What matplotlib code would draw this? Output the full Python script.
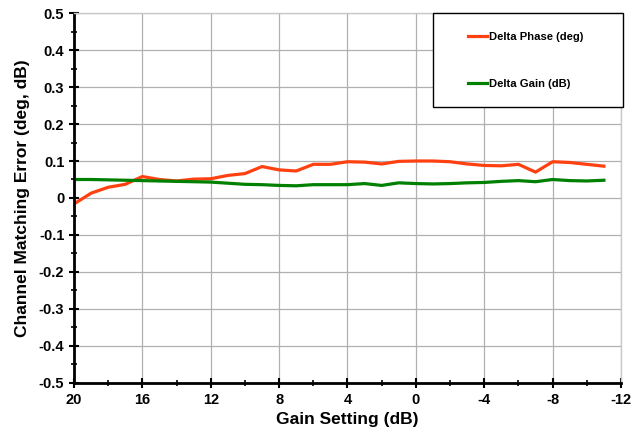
import numpy as np
import matplotlib
matplotlib.use("Agg")
import matplotlib.pyplot as plt
from matplotlib.ticker import MultipleLocator
from matplotlib.patches import Rectangle

plt.rcParams['font.family'] = ['Liberation Sans', 'DejaVu Sans']
plt.rcParams['axes.unicode_minus'] = False

# gain setting in dB, read at 1 dB steps
gain_db = list(range(20, -12, -1))
delta_phase = [-0.016, 0.013, 0.029, 0.037, 0.058, 0.050, 0.046, 0.051, 0.052, 0.061,
               0.066, 0.085, 0.076, 0.073, 0.091, 0.091, 0.098, 0.097, 0.092, 0.099,
               0.100, 0.100, 0.098, 0.092, 0.088, 0.087, 0.091, 0.070, 0.098, 0.096,
               0.091, 0.086]
delta_gain = [0.050, 0.050, 0.049, 0.048, 0.047, 0.046, 0.045, 0.044, 0.043, 0.040,
              0.037, 0.036, 0.034, 0.033, 0.036, 0.036, 0.036, 0.039, 0.034, 0.041,
              0.039, 0.038, 0.039, 0.041, 0.042, 0.045, 0.047, 0.044, 0.050, 0.047,
              0.046, 0.048]
y_ticks = [-0.5, -0.4, -0.3, -0.2, -0.1, 0, 0.1, 0.2, 0.3, 0.4, 0.5]

fig = plt.figure(figsize=(6.34, 4.38), dpi=100)
ax = fig.add_axes([0.1167, 0.1256, 0.8628, 0.8447])

ax.plot(gain_db, delta_phase, color="#ff4010", lw=2.3, label="Delta Phase (deg)")
ax.plot(gain_db, delta_gain, color="#008000", lw=2.3, label="Delta Gain (dB)")

ax.set_xlim(20, -12)
ax.set_ylim(-0.5, 0.5)
ax.xaxis.set_major_locator(MultipleLocator(4))
ax.xaxis.set_minor_locator(MultipleLocator(2))
ax.yaxis.set_minor_locator(MultipleLocator(0.05))
ax.set_yticks(y_ticks)
ax.set_yticklabels(["{:g}".format(v) for v in y_ticks])
ax.grid(True, which="major", color="#b0b0b0", lw=0.9)

ax.tick_params(which="major", direction="inout", length=7, width=1.5, labelsize=10.5)
ax.tick_params(which="minor", direction="inout", length=5, width=1.2)
for lab in ax.get_xticklabels() + ax.get_yticklabels():
    lab.set_fontweight("bold")

for s in ["left", "bottom"]:
    ax.spines[s].set_linewidth(2)
    ax.spines[s].set_color("black")
for s in ["top", "right"]:
    ax.spines[s].set_color("#c8c8c8")
    ax.spines[s].set_linewidth(1)

ax.set_xlabel("Gain Setting (dB)", fontsize=12.5, fontweight="bold", labelpad=4)
ax.set_ylabel("Channel Matching Error (deg, dB)", fontsize=12.5, fontweight="bold", labelpad=6)

# legend frame drawn separately so it can be as wide as in the original
box = Rectangle((0.656, 0.746), 0.348, 0.254, transform=ax.transAxes, facecolor="white",
                edgecolor="black", lw=1.0, zorder=5, clip_on=False)
ax.add_patch(box)
leg = ax.legend(loc="upper left", bbox_to_anchor=(0.72, 0.948), frameon=False,
                prop={"size": 8.1, "weight": "bold"}, handlelength=1.7,
                handletextpad=0.2, labelspacing=3.3, borderpad=0, borderaxespad=0)
leg.set_zorder(6)

fig.savefig("out.png", dpi=100)
